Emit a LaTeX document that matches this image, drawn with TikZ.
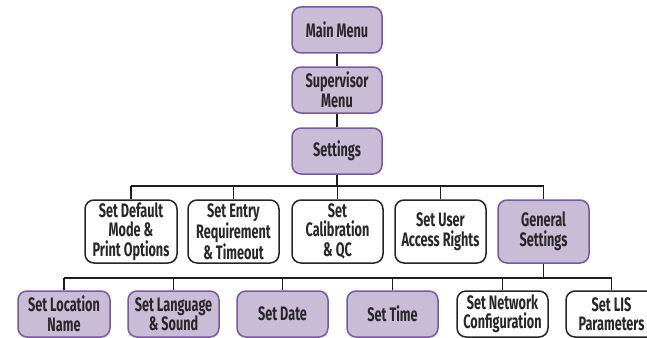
\documentclass[tikz,border=0pt]{standalone}
\usepackage{fontspec}
\newfontfamily\boxfont{Fira Sans}[FakeStretch=0.65]
\definecolor{pfill}{RGB}{201,188,214}
\definecolor{pdraw}{RGB}{122,88,158}
\definecolor{txt}{RGB}{40,40,40}
\definecolor{wire}{RGB}{30,30,30}
\tikzset{
  box/.style={rectangle, rounded corners=9pt, line width=1.5pt, align=center,
    inner sep=0pt, text=txt,
    font=\boxfont\bfseries\fontsize{19.5}{19.5}\selectfont},
  pbox/.style={box, draw=pdraw, fill=pfill},
  wbox/.style={box, draw=black!85, fill=white},
  wirestyle/.style={draw=wire, line width=1.2pt}
}
\begin{document}
\begin{tikzpicture}[x=1pt,y=-1pt]
\useasboundingbox (0,0) rectangle (647,337);
\clip (0,0) rectangle (647,337);
% level 1
\node[pbox, minimum width=90pt, minimum height=46pt] (main) at (337,30) {Main Menu};
\node[pbox, minimum width=90pt, minimum height=46pt] (sup) at (337,90) {Supervisor\\Menu};
\node[pbox, minimum width=90pt, minimum height=46pt] (set) at (337,151) {Settings};
% level 2
\node[wbox, minimum width=92pt, minimum height=63pt] (sdef) at (131,231.5) {Set Default\\Mode \&\\Print Options};
\node[wbox, minimum width=91pt, minimum height=63pt] (sent) at (233.5,231.5) {Set Entry\\Requirement\\\& Timeout};
\node[wbox, minimum width=91pt, minimum height=63pt] (scal) at (337.5,231.5) {Set\\Calibration\\\& QC};
\node[wbox, minimum width=91pt, minimum height=63pt] (suser) at (440.5,231.5) {Set User\\Access Rights};
\node[pbox, minimum width=91pt, minimum height=63pt] (gen) at (543.5,231.5) {General\\Settings};
% level 3
\node[pbox, minimum width=92pt, minimum height=46pt] (loc) at (64,314) {Set Location\\Name};
\node[pbox, minimum width=91pt, minimum height=46pt] (lang) at (173.5,314) {Set Language\\\& Sound};
\node[pbox, minimum width=91pt, minimum height=46pt] (date) at (282.5,314) {Set Date};
\node[pbox, minimum width=91pt, minimum height=46pt] (time) at (392.5,314) {Set Time};
\node[wbox, minimum width=91pt, minimum height=46pt] (net) at (502.5,314) {Set Network\\Configuration};
\node[wbox, minimum width=91pt, minimum height=46pt] (lis) at (611.5,314) {Set LIS\\Parameters};
% connectors
\coordinate (b1) at (337,186);
\coordinate (b2) at (543.5,278);
\draw[wirestyle] (main.south) -- (sup.north);
\draw[wirestyle] (sup.south) -- (set.north);
\draw[wirestyle] (set.south) -- (b1);
\draw[wirestyle] (sdef.north |- b1) -- (gen.north |- b1);
\foreach \n in {sdef,sent,scal,suser,gen} {\draw[wirestyle] (\n.north) -- (\n.north |- b1);}
\draw[wirestyle] (gen.south) -- (b2);
\draw[wirestyle] (loc.north |- b2) -- (lis.north |- b2);
\foreach \n in {loc,lang,date,time,net,lis} {\draw[wirestyle] (\n.north) -- (\n.north |- b2);}
\end{tikzpicture}
\end{document}
